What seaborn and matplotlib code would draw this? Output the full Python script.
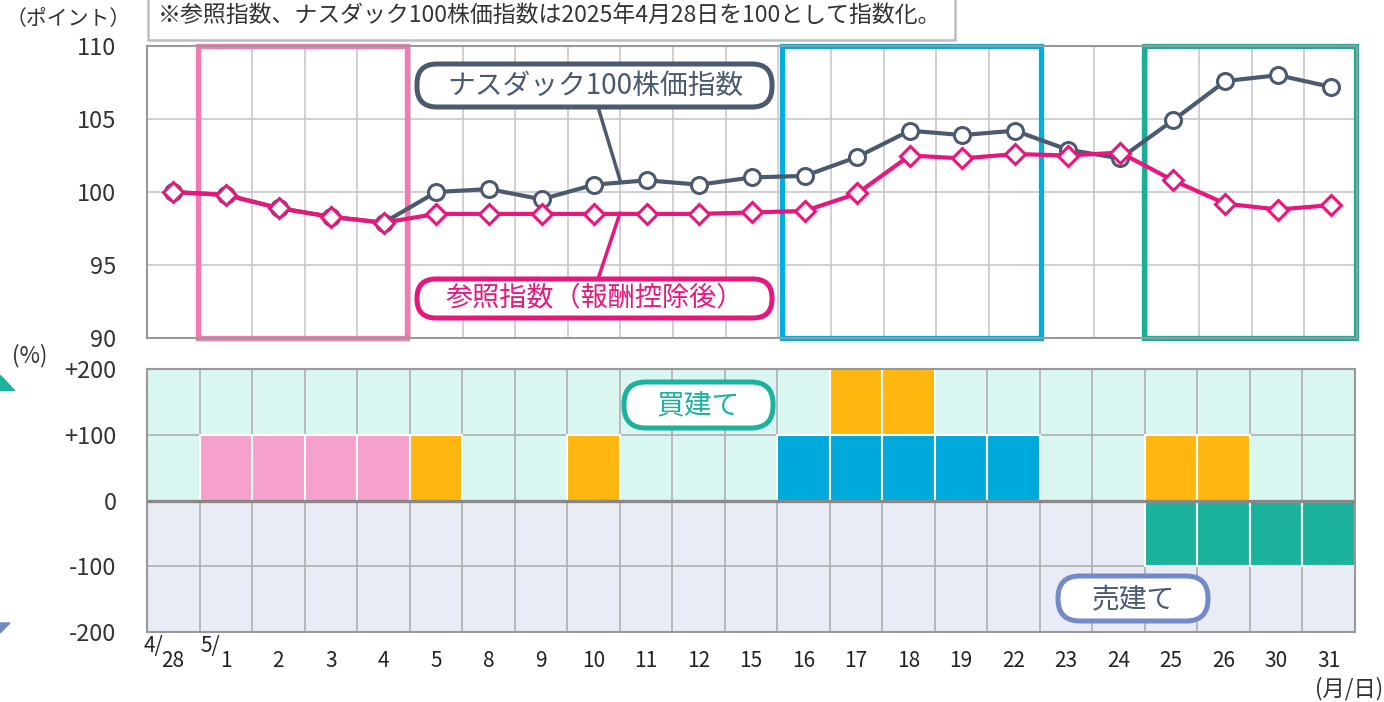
import numpy as np
import matplotlib
matplotlib.use("Agg")
import matplotlib.pyplot as plt
import seaborn as sns
from matplotlib.patches import FancyBboxPatch, Rectangle, Polygon
from matplotlib.lines import Line2D

# ---- data ----
dates = ["4/28", "5/1", "5/2", "5/3", "5/4", "5/5", "5/8", "5/9", "5/10", "5/11", "5/12",
         "5/15", "5/16", "5/17", "5/18", "5/19", "5/22", "5/23", "5/24", "5/25", "5/26",
         "5/30", "5/31"]
tick_labels = ["28", "1", "2", "3", "4", "5", "8", "9", "10", "11", "12", "15", "16", "17",
               "18", "19", "22", "23", "24", "25", "26", "30", "31"]
nasdaq = [100.0, 99.8, 98.9, 98.3, 97.9, 100.0, 100.2, 99.5, 100.5, 100.8, 100.5, 101.0,
          101.1, 102.4, 104.2, 103.9, 104.2, 102.9, 102.3, 104.9, 107.6, 108.0, 107.2]
reference = [100.0, 99.8, 98.9, 98.3, 97.9, 98.5, 98.5, 98.5, 98.5, 98.5, 98.5, 98.6,
             98.7, 99.9, 102.5, 102.3, 102.6, 102.5, 102.7, 100.8, 99.2, 98.8, 99.1]
# position components (%)
pos_pink = [0, 100, 100, 100, 100, 0, 0, 0, 0, 0, 0, 0, 0, 0, 0, 0, 0, 0, 0, 0, 0, 0, 0]
pos_blue = [0, 0, 0, 0, 0, 0, 0, 0, 0, 0, 0, 0, 100, 100, 100, 100, 100, 0, 0, 0, 0, 0, 0]
pos_orange = [0, 0, 0, 0, 0, 100, 0, 0, 100, 0, 0, 0, 0, 100, 100, 0, 0, 0, 0, 100, 100, 0, 0]
pos_teal = [0, 0, 0, 0, 0, 0, 0, 0, 0, 0, 0, 0, 0, 0, 0, 0, 0, 0, 0, -100, -100, -100, -100]

C_GRAY = "#4B5A70"
C_PINK = "#E8177D"
C_MINT_BG = "#DAF6F1"
C_LAV_BG = "#E9ECF5"
C_BAR_PINK = "#F6A1CB"
C_ORANGE = "#FFB70F"
C_TEAL = "#1BB39C"
C_BLUE = "#00A9DB"
C_BOXPINK = "#F279B2"
C_BOXBLUE = "#00AEDF"
C_BOXGREEN = "#1AAF94"
C_PURPLE = "#7389C8"

sns.set_style("white")
plt.rcParams["font.family"] = ["Noto Sans CJK JP", "DejaVu Sans"]

W, H = 1384, 702
fig = plt.figure(figsize=(W / 100, H / 100), dpi=100)


def fx(px):
    return px / W


def fy(py):
    return 1 - py / H


n = len(dates)
idx = np.arange(n)

# ---- top chart ----
ax1 = fig.add_axes([fx(147), fy(338), fx(1357) - fx(147), fy(46) - fy(338)])
ax1.set_xlim(-0.5, n - 0.5)
ax1.set_ylim(90, 110)
for b in np.arange(0.5, n - 0.5, 1):
    ax1.axvline(b, color="#C8C8C8", lw=1.2, zorder=0)
for yv in [95, 100, 105]:
    ax1.axhline(yv, color="#C8C8C8", lw=1.2, zorder=0)

for (x0, x1, col) in [(0.47, 4.45, C_BOXPINK), (11.57, 16.5, C_BOXBLUE), (18.45, 22.48, C_BOXGREEN)]:
    ax1.add_patch(Rectangle((x0, 90), x1 - x0, 20, fill=False, edgecolor=col, lw=3.8,
                            zorder=1, clip_on=False))

sns.lineplot(x=idx, y=nasdaq, ax=ax1, color=C_GRAY, lw=3, marker="o", markersize=11.5,
             markerfacecolor="white", markeredgecolor=C_GRAY, markeredgewidth=2.2, zorder=3)
sns.lineplot(x=idx, y=reference, ax=ax1, color=C_PINK, lw=3, marker="D", markersize=10,
             markerfacecolor="white", markeredgecolor=C_PINK, markeredgewidth=2.2, zorder=4)
ax1.set_xticks([])
ax1.set_yticks([90, 95, 100, 105, 110])
ax1.tick_params(axis="y", length=0, labelsize=17, labelcolor="#333333", pad=22)
ax1.set_xlabel("")
ax1.set_ylabel("")
for s in ax1.spines.values():
    s.set_color("#999999")
    s.set_linewidth(1.5)

# ---- bottom chart ----
ax2 = fig.add_axes([fx(147), fy(632), fx(1355) - fx(147), fy(369) - fy(632)])
ax2.axhspan(0, 200, color=C_MINT_BG, zorder=0)
ax2.axhspan(-200, 0, color=C_LAV_BG, zorder=0)
for b in np.arange(0.5, n - 0.5, 1):
    ax2.axvline(b, color="#AFAFAF", lw=1.2, zorder=0.5)
for yv in [100, -100]:
    ax2.axhline(yv, color="#AFAFAF", lw=1.2, zorder=0.5)


def bars(values, color):
    sel = [i for i, v in enumerate(values) if v != 0]
    sns.barplot(x=[dates[i] for i in sel], y=[values[i] for i in sel], order=dates,
                color=color, width=1, edgecolor="white", linewidth=1.5, saturation=1,
                ax=ax2, zorder=2)


tall = [o + b + p for o, b, p in zip(pos_orange, pos_blue, pos_pink)]
bars([t if o else 0 for t, o in zip(tall, pos_orange)], C_ORANGE)
bars(pos_blue, C_BLUE)
bars(pos_pink, C_BAR_PINK)
bars(pos_teal, C_TEAL)

ax2.axhline(0, color="#888888", lw=2.4, zorder=5)
ax2.set_xlim(-0.5, n - 0.5)
ax2.set_ylim(-200, 200)
ax2.set_yticks([-200, -100, 0, 100, 200])
ax2.set_yticklabels(["-200", "-100", "0", "+100", "+200"])
ax2.set_xticks(idx)
ax2.set_xticklabels(tick_labels)
ax2.tick_params(axis="y", length=0, labelsize=17, labelcolor="#333333", pad=22)
ax2.tick_params(axis="x", length=0, labelsize=15, labelcolor="#222222", pad=13)
ax2.set_xlabel("")
ax2.set_ylabel("")
for s in ax2.spines.values():
    s.set_color("#999999")
    s.set_linewidth(1.5)

# month prefixes
fig.text(fx(153), fy(646), "4/", fontsize=15, color="#222222", ha="center", va="center")
fig.text(fx(210), fy(646), "5/", fontsize=15, color="#222222", ha="center", va="center")

# axis unit labels
fig.text(fx(6), fy(19), "（ポイント）", fontsize=15, color="#333333", ha="left", va="center")
fig.text(fx(12), fy(356), "(%)", fontsize=16, color="#333333", ha="left", va="center")
fig.text(fx(1383), fy(689), "(月/日)", fontsize=16, color="#333333", ha="right", va="center")

# top note box
tin = fig.dpi_scale_trans


def pbox(x0, y0, x1, y1, edge, lw, r):
    p = FancyBboxPatch((x0 / 100 + r, (H - y1) / 100 + r), (x1 - x0) / 100 - 2 * r,
                       (y1 - y0) / 100 - 2 * r, boxstyle=f"round,pad={r},rounding_size={r}",
                       transform=tin, facecolor="white", edgecolor=edge, lw=lw, zorder=10)
    fig.add_artist(p)


fig.add_artist(Rectangle((148 / 100, (H - 40) / 100), (955 - 148) / 100, 0.6, transform=tin,
                         facecolor="white", edgecolor="#BDBDBD", lw=1.8, zorder=10))
fig.text(fx(158), fy(15), "※参照指数、ナスダック100株価指数は2025年4月28日を100として指数化。",
         fontsize=16.5, color="#333333", ha="left", va="center", zorder=11)

# callouts with leader lines
fig.add_artist(Line2D([5.98, 6.20], [(H - 107) / 100, (H - 180) / 100], transform=tin,
                      color=C_GRAY, lw=2.5, zorder=9))
fig.add_artist(Line2D([5.98, 6.20], [(H - 279) / 100, (H - 213) / 100], transform=tin,
                      color=C_PINK, lw=2.5, zorder=9))

pbox(417, 64, 772, 107, C_GRAY, 3.6, 0.2)
fig.text(fx(595), fy(86), "ナスダック100株価指数", fontsize=20, color=C_GRAY,
         ha="center", va="center", zorder=11)
pbox(417, 279, 772, 318, C_PINK, 3.6, 0.19)
fig.text(fx(595), fy(298), "参照指数（報酬控除後）", fontsize=19.5, color=C_PINK,
         ha="center", va="center", zorder=11)
pbox(624, 382, 773, 428, C_TEAL, 3.6, 0.22)
fig.text(fx(698), fy(405), "買建て", fontsize=20, color=C_TEAL,
         ha="center", va="center", zorder=11)
pbox(1058, 576, 1208, 621, C_PURPLE, 3.6, 0.22)
fig.text(fx(1133), fy(599), "売建て", fontsize=20, color=C_GRAY,
         ha="center", va="center", zorder=11)

# cut-off arrow heads at the left edge
fig.add_artist(Polygon([[0, (H - 375) / 100], [0, (H - 390) / 100], [0.14, (H - 390) / 100]],
                       closed=True, transform=tin, color=C_TEAL, zorder=10))
fig.add_artist(Polygon([[0, (H - 623) / 100], [0.10, (H - 623) / 100], [0, (H - 633) / 100]],
                       closed=True, transform=tin, color=C_PURPLE, zorder=10))

fig.savefig("out.png", dpi=100)
